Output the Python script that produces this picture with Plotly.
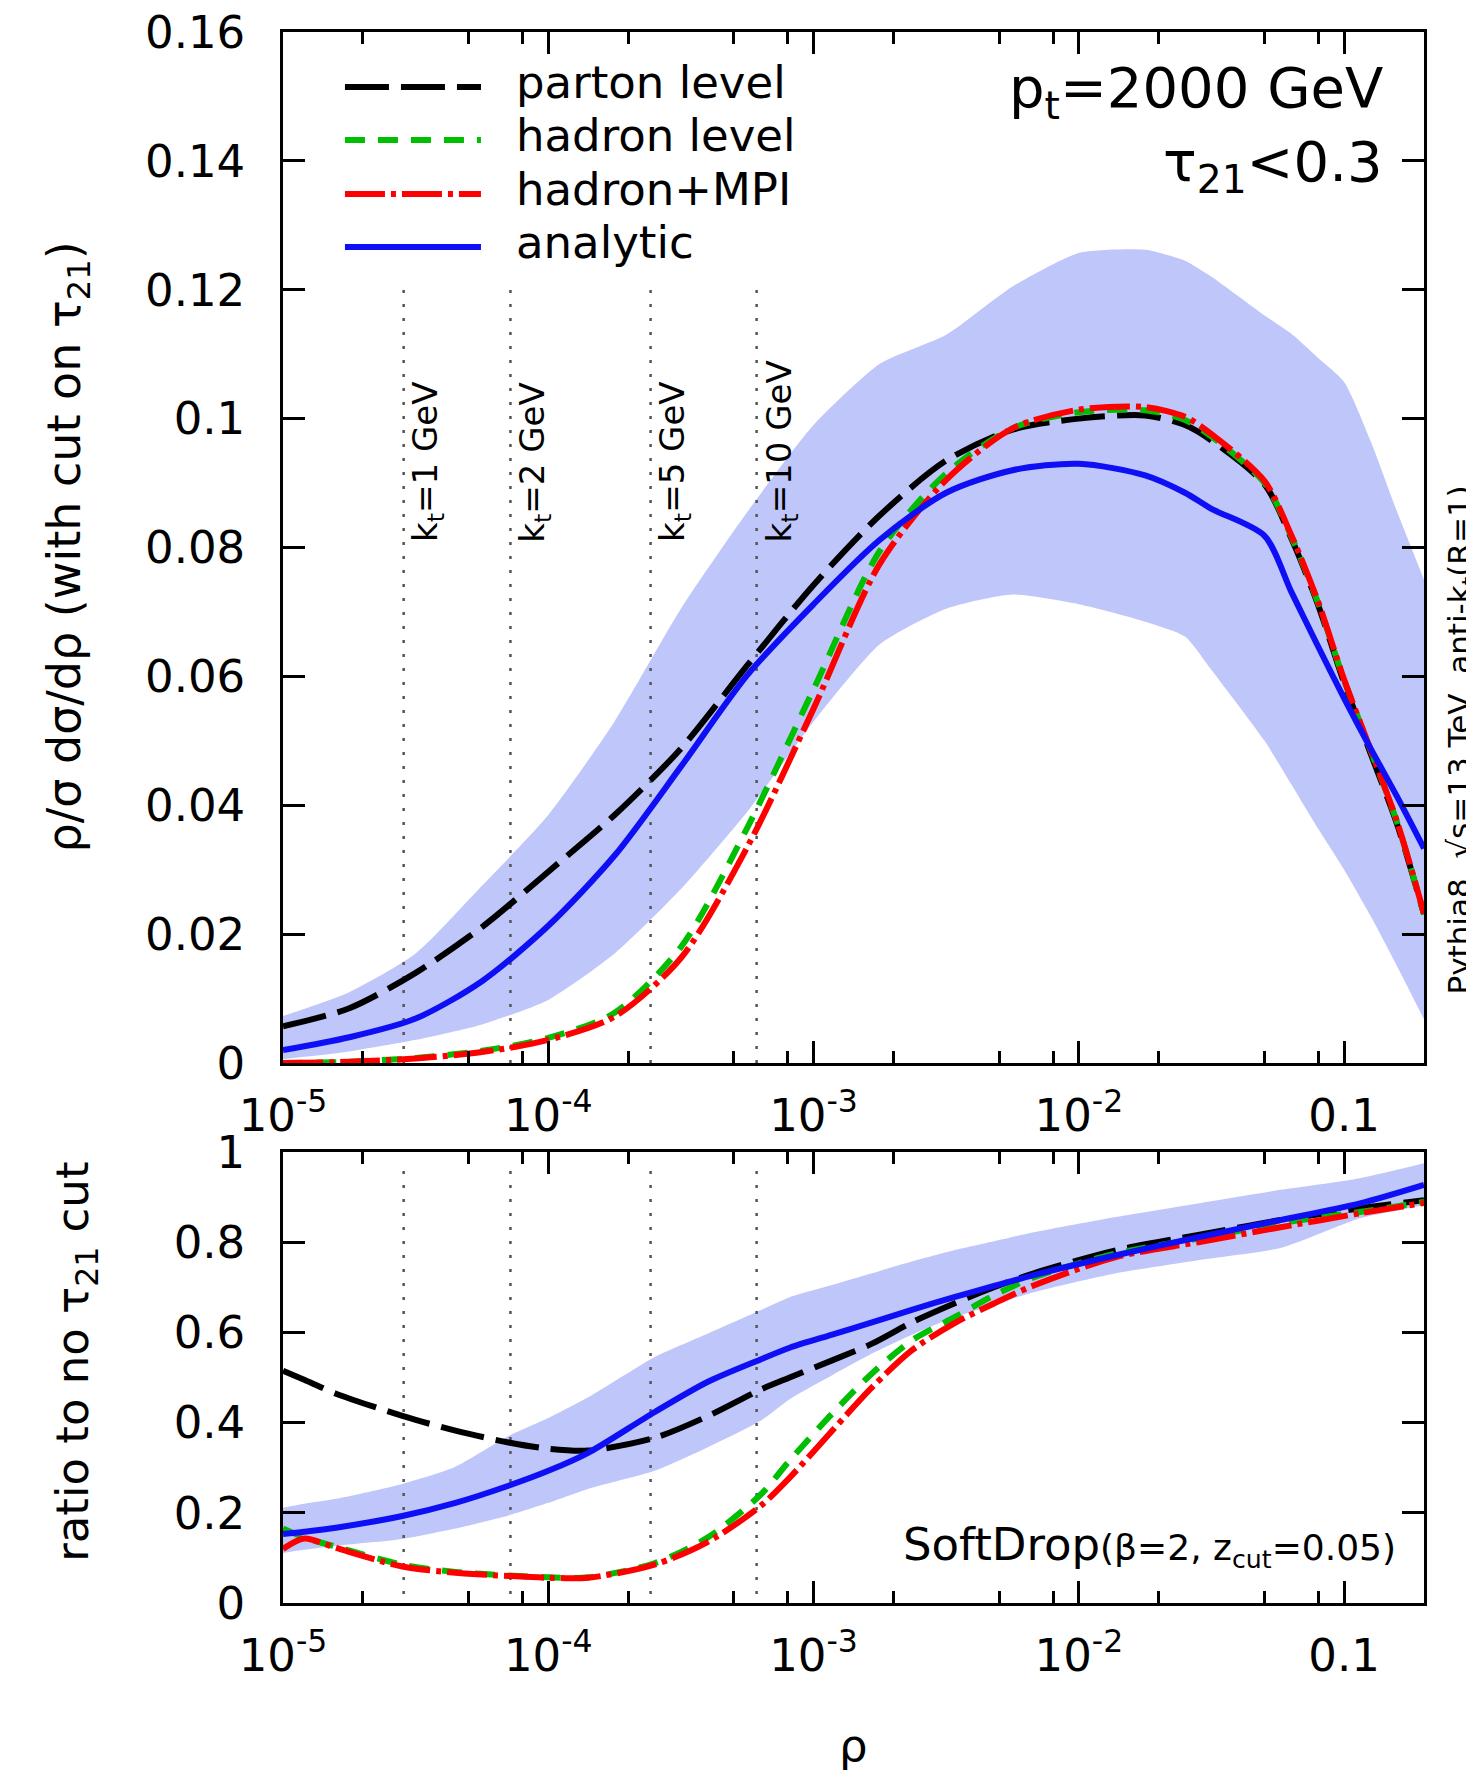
import numpy as np
import plotly.graph_objects as go

# ---------------- data ----------------
rho_top = [1e-5, 1.778e-5, 3.162e-5, 5.623e-5, 1e-4, 1.778e-4, 3.162e-4, 5.623e-4,
           1e-3, 1.778e-3, 3.162e-3, 5.623e-3, 1e-2, 1.778e-2, 2.512e-2, 3.162e-2,
           5.012e-2, 6.310e-2, 7.943e-2, 0.1, 0.1259, 0.1585, 0.2]
parton_top = [0.0057, 0.0085, 0.0140, 0.0211, 0.0297, 0.0385, 0.0488, 0.0617, 0.0742, 0.0850,
              0.0935, 0.0983, 0.1000, 0.1005, 0.0990, 0.0966, 0.0898, 0.0815, 0.0713, 0.0590,
              0.0480, 0.0370, 0.0231]
hadron_top = [0.0, 0.0002, 0.0008, 0.0019, 0.0039, 0.0078, 0.0180, 0.0365, 0.0580, 0.0795,
              0.0915, 0.0985, 0.1010, 0.1013, 0.0998, 0.0972, 0.0900, 0.0818, 0.0716, 0.0594,
              0.0485, 0.0373, 0.0231]
mpi_top = [0.0, 0.0002, 0.0007, 0.0017, 0.0036, 0.0072, 0.0163, 0.0335, 0.0550, 0.0775,
           0.0905, 0.0985, 0.1014, 0.1018, 0.1003, 0.0976, 0.0903, 0.0820, 0.0718, 0.0595,
           0.0486, 0.0374, 0.0232]
analytic_top = [0.0020, 0.0040, 0.0069, 0.0127, 0.0213, 0.0322, 0.0460, 0.0602, 0.0712, 0.0812,
                0.0885, 0.0920, 0.0930, 0.0912, 0.0885, 0.0860, 0.0818, 0.0732, 0.0648, 0.0566,
                0.0488, 0.0413, 0.0333]
band_hi_top = [0.0073, 0.0110, 0.0170, 0.0275, 0.0385, 0.0530, 0.0705, 0.0855, 0.0990, 0.1085,
               0.1130, 0.1205, 0.1257, 0.1262, 0.1245, 0.1220, 0.1160, 0.1132, 0.1095, 0.1057,
               0.0965, 0.0855, 0.0750]
band_lo_top = [0.0006, 0.0018, 0.0036, 0.0060, 0.0098, 0.0170, 0.0270, 0.0390, 0.0530, 0.0650,
               0.0705, 0.0727, 0.0712, 0.0685, 0.0662, 0.0610, 0.0500, 0.0433, 0.0365, 0.0300,
               0.0228, 0.0150, 0.0068]

rho_bot = [1e-5, 1.202e-5, 1.585e-5, 2.818e-5, 4.467e-5, 7.079e-5, 1e-4, 1.413e-4, 2.512e-4,
           3.981e-4, 6.310e-4, 8.128e-4, 1.175e-3, 1.660e-3, 2.344e-3, 3.388e-3, 4.786e-3,
           6.761e-3, 1.380e-2, 2.818e-2, 5.754e-2, 0.1148, 0.2]
parton_bot = [0.515, 0.495, 0.464, 0.415, 0.382, 0.356, 0.342, 0.338, 0.366, 0.414, 0.473,
              0.500, 0.538, 0.575, 0.622, 0.664, 0.700, 0.731, 0.782, 0.816, 0.849, 0.875, 0.893]
analytic_bot = [0.153, 0.158, 0.167, 0.193, 0.222, 0.260, 0.293, 0.333, 0.423, 0.490, 0.540,
                0.566, 0.595, 0.622, 0.650, 0.678, 0.703, 0.727, 0.771, 0.811, 0.849, 0.886, 0.927]
hadron_bot = [0.165, 0.145, 0.125, 0.085, 0.069, 0.061, 0.057, 0.057, 0.088, 0.145, 0.240,
              0.316, 0.420, 0.509, 0.582, 0.633, 0.682, 0.722, 0.775, 0.808, 0.842, 0.867, 0.889]
mpi_bot = [0.120, 0.143, 0.122, 0.081, 0.067, 0.060, 0.056, 0.056, 0.085, 0.135, 0.215,
           0.278, 0.382, 0.478, 0.560, 0.620, 0.664, 0.704, 0.767, 0.800, 0.833, 0.864, 0.887]
band_hi_bot = [0.211, 0.220, 0.231, 0.264, 0.302, 0.370, 0.410, 0.456, 0.545, 0.597, 0.649,
               0.678, 0.705, 0.731, 0.757, 0.782, 0.802, 0.822, 0.856, 0.886, 0.916, 0.942, 0.975]
band_lo_bot = [0.111, 0.118, 0.127, 0.142, 0.165, 0.194, 0.222, 0.253, 0.293, 0.345, 0.404,
               0.452, 0.505, 0.553, 0.595, 0.633, 0.662, 0.689, 0.731, 0.760, 0.787, 0.853, 0.882]

kt_rho = [2.85e-5, 7.2e-5, 2.43e-4, 6.1e-4]
kt_labels = ["k<sub>t</sub>=1 GeV", "k<sub>t</sub>=2 GeV", "k<sub>t</sub>=5 GeV", "k<sub>t</sub>=10 GeV"]

x_tickvals = [1e-5, 1e-4, 1e-3, 1e-2, 0.1]
x_ticktext = ["10<sup>-5</sup>", "10<sup>-4</sup>", "10<sup>-3</sup>", "10<sup>-2</sup>", "0.1"]
x_minor = [2e-5, 5e-5, 8e-5, 2e-4, 5e-4, 8e-4, 2e-3, 5e-3, 8e-3, 2e-2, 5e-2, 8e-2]
y_top_ticks = [0, 0.02, 0.04, 0.06, 0.08, 0.1, 0.12, 0.14, 0.16]
y_top_text = ["0", "0.02", "0.04", "0.06", "0.08", "0.1", "0.12", "0.14", "0.16"]
y_bot_ticks = [0, 0.2, 0.4, 0.6, 0.8, 1.0]
y_bot_text = ["0", "0.2", "0.4", "0.6", "0.8", "1"]

# ---------------- styles ----------------
FONT = "DejaVu Sans"
BAND = "rgb(190,198,250)"
series = [
    ("parton level", "black", "44px,12px"),
    ("hadron level", "rgb(0,190,0)", "20px,13px"),
    ("hadron+MPI", "rgb(255,0,0)", "40px,6px,5px,6px"),
    ("analytic", "rgb(15,15,245)", "solid"),
]
top_vals = [parton_top, hadron_top, mpi_top, analytic_top]
bot_vals = [parton_bot, hadron_bot, mpi_bot, analytic_bot]

fig = go.Figure()

# bands
for xs, lo, hi, xa, ya in [(rho_top, band_lo_top, band_hi_top, "x", "y"),
                           (rho_bot, band_lo_bot, band_hi_bot, "x2", "y2")]:
    fig.add_trace(go.Scatter(x=xs, y=lo, mode="lines",
                             line=dict(width=0, color=BAND, shape="spline", smoothing=0.6),
                             showlegend=False, xaxis=xa, yaxis=ya, hoverinfo="skip"))
    fig.add_trace(go.Scatter(x=xs, y=hi, mode="lines",
                             line=dict(width=0, color=BAND, shape="spline", smoothing=0.6),
                             fill="tonexty", fillcolor=BAND, showlegend=False,
                             xaxis=xa, yaxis=ya, hoverinfo="skip"))

# kt dotted lines
for r in kt_rho:
    fig.add_trace(go.Scatter(x=[r, r], y=[0, 0.12], mode="lines",
                             line=dict(color="#555555", width=2.5, dash="3px,11px"),
                             showlegend=False, xaxis="x", yaxis="y", hoverinfo="skip"))
    fig.add_trace(go.Scatter(x=[r, r], y=[0.02, 0.98], mode="lines",
                             line=dict(color="#555555", width=2.5, dash="3px,11px"),
                             showlegend=False, xaxis="x2", yaxis="y2", hoverinfo="skip"))

# curves
for (name, col, dash), yt, yb in zip(series, top_vals, bot_vals):
    fig.add_trace(go.Scatter(x=rho_top, y=yt, mode="lines", name=name, showlegend=False,
                             line=dict(color=col, width=6, dash=dash, shape="spline", smoothing=0.8),
                             xaxis="x", yaxis="y"))
    fig.add_trace(go.Scatter(x=rho_bot, y=yb, mode="lines", name=name, showlegend=False,
                             line=dict(color=col, width=6, dash=dash, shape="spline", smoothing=0.8),
                             xaxis="x2", yaxis="y2"))

axis_common = dict(showline=True, linewidth=2.5, linecolor="black", mirror="ticks",
                   ticks="inside", ticklen=22, tickwidth=2.5, tickcolor="black",
                   showgrid=False, zeroline=False, automargin=False,
                   ticklabeloverflow="allow",
                   tickfont=dict(family=FONT, size=45, color="black"))
xcommon = dict(axis_common, type="log", range=[-5, np.log10(0.2)],
               tickmode="array", tickvals=x_tickvals, ticktext=x_ticktext,
               ticklabelstandoff=11,
               minor=dict(tickmode="array", tickvals=x_minor, ticks="inside", ticklen=12,
                          tickwidth=2.5, tickcolor="black", showgrid=False))

# page has an 8px body margin; plot area spans page x 283..1424, y 32..1603
TOP_DOM = [0.3437, 1.0]
BOT_DOM = [0.0, 0.2871]

fig.update_layout(
    width=1466, height=1765,
    margin=dict(l=275, r=50, t=24, b=170),
    paper_bgcolor="white", plot_bgcolor="white",
    font=dict(family=FONT, size=45, color="black"),
    xaxis=dict(xcommon, domain=[0, 1], anchor="y"),
    yaxis=dict(axis_common, domain=TOP_DOM, anchor="x", range=[0, 0.16],
               tickmode="array", tickvals=y_top_ticks, ticktext=y_top_text,
               ticklabelstandoff=26),
    xaxis2=dict(xcommon, domain=[0, 1], anchor="y2"),
    yaxis2=dict(axis_common, domain=BOT_DOM, anchor="x2", range=[0, 1],
                tickmode="array", tickvals=y_bot_ticks, ticktext=y_bot_text,
                ticklabelstandoff=26),
    showlegend=False,
)

ann = []
shapes = []
# legend (drawn as key lines + labels)
legend_y = [0.9650, 0.9313, 0.8969, 0.8632]
for (name, col, dash), ly in zip(series, legend_y):
    shapes.append(dict(type="line", xref="paper", yref="paper", x0=0.0543, x1=0.1735,
                       y0=ly, y1=ly, line=dict(color=col, width=6, dash=dash)))
    ann.append(dict(text=name, xref="paper", yref="paper", x=0.2025, y=ly + 0.003,
                    xanchor="left", yanchor="middle", showarrow=False,
                    font=dict(family=FONT, size=45, color="black")))
# y titles
ann.append(dict(text="ρ/σ dσ/dρ (with cut on τ<sub>21</sub>)", xref="paper", yref="paper",
                x=0, y=(TOP_DOM[0] + TOP_DOM[1]) / 2, xshift=-215, textangle=-90,
                showarrow=False, xanchor="center", yanchor="middle",
                font=dict(family=FONT, size=46)))
ann.append(dict(text="ratio to no τ<sub>21</sub> cut", xref="paper", yref="paper",
                x=0, y=(BOT_DOM[0] + BOT_DOM[1]) / 2 + 0.01, xshift=-208, textangle=-90,
                showarrow=False, xanchor="center", yanchor="middle",
                font=dict(family=FONT, size=45)))
# x title
ann.append(dict(text="ρ", xref="paper", yref="paper", x=0.5, y=-0.091, showarrow=False,
                xanchor="center", yanchor="middle", font=dict(family=FONT, size=45)))
# top-right labels
ann.append(dict(text="p<sub>t</sub>=2000 GeV", xref="paper", yref="paper", x=1, y=0.962,
                xshift=-39, xanchor="right", yanchor="middle", showarrow=False,
                font=dict(family=FONT, size=56)))
ann.append(dict(text="τ<sub>21</sub><0.3", xref="paper", yref="paper", x=1, y=0.915,
                xshift=-39, xanchor="right", yanchor="middle", showarrow=False,
                font=dict(family=FONT, size=56)))
# right side text
ann.append(dict(text="Pythia8, √s=13 TeV, anti-k<sub>t</sub>(R=1)", xref="paper", yref="paper",
                x=1, y=0.549, xshift=38, textangle=-90, xanchor="center", yanchor="middle",
                showarrow=False, font=dict(family=FONT, size=31)))
# softdrop
ann.append(dict(text="SoftDrop<span style='font-size:36px'>(β=2, z<sub>cut</sub>=0.05)</span>",
                xref="paper", yref="paper", x=1, y=0.036, xshift=-26, xanchor="right",
                yanchor="middle", showarrow=False, font=dict(family=FONT, size=45)))
# kt labels
for r, lab in zip(kt_rho, kt_labels):
    ann.append(dict(text=lab, xref="x", yref="y", x=np.log10(r), y=0.0805, textangle=-90,
                    xanchor="left", yanchor="bottom", showarrow=False,
                    font=dict(family=FONT, size=34, color="black")))
fig.update_layout(annotations=ann, shapes=shapes)

fig.write_html("out.html")
